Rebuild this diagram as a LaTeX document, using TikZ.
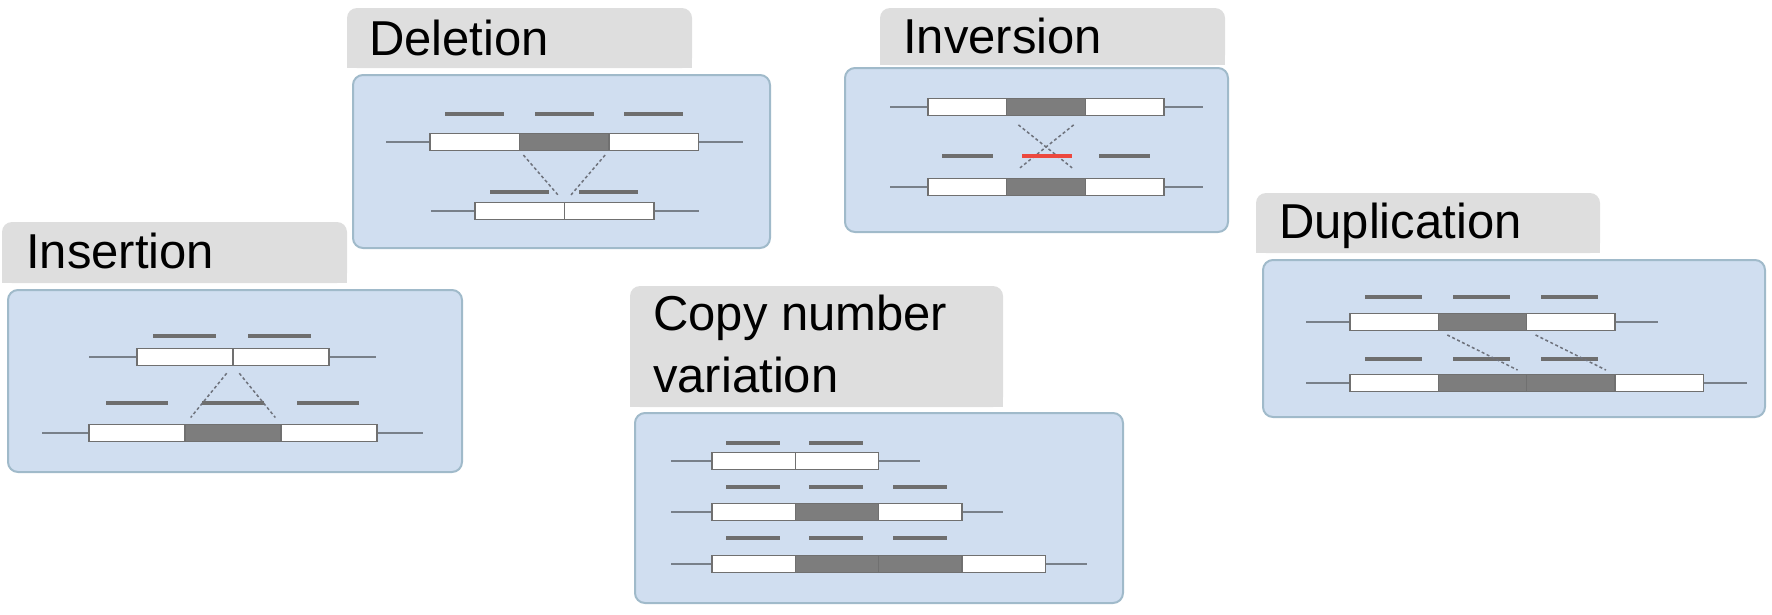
\documentclass[tikz,border=0pt]{standalone}
\usepackage{fontspec}
\setmainfont{Liberation Sans}
\usepackage{xcolor}
\usetikzlibrary{positioning}
\definecolor{panelfill}{RGB}{208,222,240}
\definecolor{panelline}{RGB}{160,186,202}
\definecolor{tabfill}{RGB}{222,222,222}
\definecolor{segline}{RGB}{112,112,112}
\definecolor{varfill}{RGB}{125,125,125}
\definecolor{flankline}{RGB}{120,128,138}
\definecolor{readline}{RGB}{110,110,110}
\definecolor{readred}{RGB}{236,72,62}
\definecolor{linkline}{RGB}{110,114,124}
\tikzset{
panel/.style = {draw=panelline, fill=panelfill, line width=2pt, rounded corners=10pt},
tab/.style = {fill=tabfill},
title/.style = {anchor=base west, inner sep=0pt, font=\fontsize{49}{58}\selectfont},
segment/.style = {draw=segline, fill=white, line width=1.3pt, minimum height=17pt, inner sep=0pt, outer sep=0pt},
variant/.style = {segment, fill=varfill},
flank/.style = {draw=flankline, line width=2pt},
read/.style = {draw=readline, line width=4pt},
redread/.style = {draw=readred, line width=4pt},
link/.style = {draw=linkline, line width=1.5pt, dash pattern=on 3pt off 2.5pt}
}

\begin{document}
\begin{tikzpicture}[x=1pt, y=-1pt]
    \useasboundingbox (0,0) rectangle (1772,614);
    % tabs and panels
    \foreach \xa/\ya/\xb/\yb in {347/8/692/68, 880/8/1225/65, 2/222/347/283, 630/286/1003/407, 1256/193/1600/253} {
        \fill[tab, rounded corners=10pt] (\xa,\ya) rectangle (\xb,\yb);
        \fill[tab] (\xa,\ya+20) rectangle (\xb,\yb);
    }
    \foreach \xa/\ya/\xb/\yb in {353/75/770/248, 845/68/1228/232, 8/290/462/472, 635/413/1123/603, 1263/260/1765/417}
        \draw[panel] (\xa,\ya) rectangle (\xb,\yb);

    % Deletion
    \node[title] (deltitle) at (369,55) {Deletion};
    \draw[flank] (386,142) -- (743,142);
    \draw[flank] (431,211) -- (699,211);
    \begin{scope}[segment/.append style={minimum width=89.5pt}]
        \node[segment, anchor=west] (del1a) at (430,142) {};
        \node[variant, right=0pt of del1a] (del1b) {};
        \node[segment, right=0pt of del1b] (del1c) {};
        \node[segment, anchor=west] (del2a) at (475,211) {};
        \node[segment, right=0pt of del2a] (del2b) {};
    \end{scope}
    \foreach \x in {445,535,624} \draw[read] (\x,114) -- ++(59,0);
    \foreach \x in {490,579} \draw[read] (\x,192) -- ++(59,0);
    \draw[link, shorten <=6pt, shorten >=10pt] (del1b.south west) -- (del2a.north east);
    \draw[link, shorten <=6pt, shorten >=10pt] (del1b.south east) -- (del2a.north east);

    % Inversion
    \node[title] (invtitle) at (903,53) {Inversion};
    \draw[flank] (890,107) -- (1203,107);
    \draw[flank] (890,187) -- (1203,187);
    \begin{scope}[segment/.append style={minimum width=78.7pt}]
        \node[segment, anchor=west] (inv1a) at (928,107) {};
        \node[variant, right=0pt of inv1a] (inv1b) {};
        \node[segment, right=0pt of inv1b] (inv1c) {};
        \node[segment, anchor=west] (inv2a) at (928,187) {};
        \node[variant, right=0pt of inv2a] (inv2b) {};
        \node[segment, right=0pt of inv2b] (inv2c) {};
    \end{scope}
    \draw[link, shorten <=15pt, shorten >=17pt] (inv1b.south west) -- (inv2b.north east);
    \draw[link, shorten <=15pt, shorten >=17pt] (inv1b.south east) -- (inv2b.north west);
    \draw[read] (942,156) -- ++(51,0);
    \draw[redread] (1022,156) -- ++(50,0);
    \draw[read] (1099,156) -- ++(51,0);

    % Insertion
    \node[title] (institle) at (26,268) {Insertion};
    \draw[flank] (89,357) -- (376,357);
    \draw[flank] (42,433) -- (423,433);
    \begin{scope}[segment/.append style={minimum width=96pt}]
        \node[segment, anchor=west] (ins1a) at (137,357) {};
        \node[segment, right=0pt of ins1a] (ins1b) {};
        \node[segment, anchor=west] (ins2a) at (89,433) {};
        \node[variant, right=0pt of ins2a] (ins2b) {};
        \node[segment, right=0pt of ins2b] (ins2c) {};
    \end{scope}
    \foreach \x in {153,248} \draw[read] (\x,336) -- ++(63,0);
    \foreach \x in {106,202,297} \draw[read] (\x,403) -- ++(62,0);
    \draw[link, shorten <=10pt, shorten >=9pt] (ins1a.south east) -- (ins2b.north west);
    \draw[link, shorten <=10pt, shorten >=9pt] (ins1a.south east) -- (ins2b.north east);

    % Copy number variation
    \node[title] (cnvtitle) at (653,330) {Copy number};
    \node[title] (cnvtitleb) at (653,392) {variation};
    \draw[flank] (671,461) -- (920,461);
    \draw[flank] (671,512) -- (1003,512);
    \draw[flank] (671,564) -- (1087,564);
    \begin{scope}[segment/.append style={minimum width=83.3pt}]
        \node[segment, anchor=west] (cnv1a) at (712,461) {};
        \node[segment, right=0pt of cnv1a] (cnv1b) {};
        \node[segment, anchor=west] (cnv2a) at (712,512) {};
        \node[variant, right=0pt of cnv2a] (cnv2b) {};
        \node[segment, right=0pt of cnv2b] (cnv2c) {};
        \node[segment, anchor=west] (cnv3a) at (712,564) {};
        \node[variant, right=0pt of cnv3a] (cnv3b) {};
        \node[variant, right=0pt of cnv3b] (cnv3c) {};
        \node[segment, right=0pt of cnv3c] (cnv3d) {};
    \end{scope}
    \foreach \x in {726,809} \draw[read] (\x,443) -- ++(54,0);
    \foreach \y in {487,538}
        \foreach \x in {726,809,893} \draw[read] (\x,\y) -- ++(54,0);

    % Duplication
    \node[title] (duptitle) at (1279,238) {Duplication};
    \draw[flank] (1306,322) -- (1658,322);
    \draw[flank] (1306,383) -- (1747,383);
    \begin{scope}[segment/.append style={minimum width=88.3pt}]
        \node[segment, anchor=west] (dup1a) at (1350,322) {};
        \node[variant, right=0pt of dup1a] (dup1b) {};
        \node[segment, right=0pt of dup1b] (dup1c) {};
        \node[segment, anchor=west] (dup2a) at (1350,383) {};
        \node[variant, right=0pt of dup2a] (dup2b) {};
        \node[variant, right=0pt of dup2b] (dup2c) {};
        \node[segment, right=0pt of dup2c] (dup2d) {};
    \end{scope}
    \foreach \y in {297,359}
        \foreach \x in {1365,1453,1541} \draw[read] (\x,\y) -- ++(57,0);
    \draw[link, shorten <=10pt, shorten >=10pt] (dup1b.south west) -- (dup2b.north east);
    \draw[link, shorten <=10pt, shorten >=10pt] (dup1b.south east) -- (dup2c.north east);
\end{tikzpicture}
\end{document}
